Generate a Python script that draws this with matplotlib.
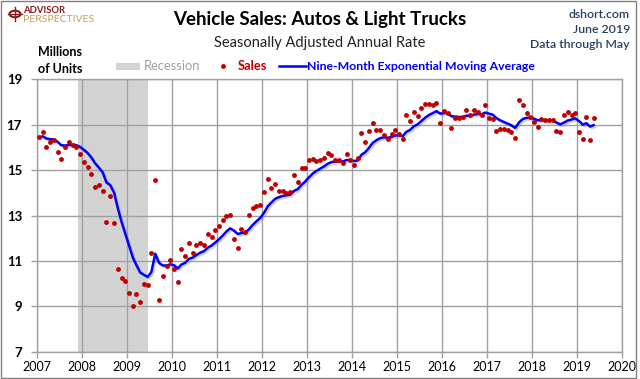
import numpy as np
import pandas as pd
import matplotlib
matplotlib.use("Agg")
import matplotlib.pyplot as plt
import matplotlib.dates as mdates
import matplotlib.patheffects as pe
from matplotlib.patches import Rectangle, Circle
from matplotlib.lines import Line2D

# ---- data (millions of units, SAAR), Jan 2007 .. May 2019 ----
sales_2007 = [16.44, 16.70, 16.03, 16.22, 16.31, 15.82, 15.51, 16.03, 16.22, 16.12, 16.03, 15.72]
sales_2008 = [15.38, 15.16, 14.81, 14.25, 14.36, 14.07, 12.70, 13.87, 12.66, 10.66, 10.23, 10.13]
sales_2009 = [9.58, 9.01, 9.53, 9.18, 9.98, 9.92, 11.37, 14.55, 9.30, 10.35, 10.78, 11.06]
sales_2010 = [10.66, 10.09, 11.53, 11.22, 11.79, 11.37, 11.70, 11.79, 11.70, 12.19, 12.04, 12.35]
sales_2011 = [12.54, 12.79, 12.97, 13.01, 11.97, 11.57, 12.40, 12.28, 13.01, 13.35, 13.41, 13.45]
sales_2012 = [14.04, 14.59, 14.22, 14.40, 14.09, 14.09, 14.00, 14.02, 14.77, 14.48, 15.10, 15.10]
sales_2013 = [15.45, 15.51, 15.41, 15.46, 15.55, 15.76, 15.66, 15.45, 15.47, 15.32, 15.71, 15.45]
sales_2014 = [15.23, 15.54, 16.65, 16.25, 16.72, 17.10, 16.79, 16.79, 16.57, 16.37, 16.59, 16.79]
sales_2015 = [16.59, 16.36, 17.41, 17.15, 17.55, 17.37, 17.75, 17.90, 17.90, 17.86, 17.94, 17.06]
sales_2016 = [17.62, 17.50, 16.84, 17.28, 17.28, 17.34, 17.63, 17.41, 17.63, 17.58, 17.41, 17.86]
sales_2017 = [17.28, 17.24, 16.72, 16.81, 16.81, 16.77, 16.68, 16.40, 18.08, 17.86, 17.50, 17.33]
sales_2018 = [17.11, 16.90, 17.24, 17.19, 17.19, 17.19, 16.72, 16.68, 17.41, 17.55, 17.41, 17.50]
sales_2019 = [16.68, 16.37, 17.33, 16.32, 17.28]

sales = np.array(sales_2007 + sales_2008 + sales_2009 + sales_2010 + sales_2011 +
                 sales_2012 + sales_2013 + sales_2014 + sales_2015 + sales_2016 +
                 sales_2017 + sales_2018 + sales_2019)
dates = pd.date_range("2007-01-01", periods=len(sales), freq="MS") + pd.Timedelta(days=14)

ema_span = 9
ema = pd.Series(sales).ewm(span=ema_span, adjust=False).mean().values

recession_start = pd.Timestamp("2007-12-01")
recession_end = pd.Timestamp("2009-06-15")

year_ticks = list(range(2007, 2021))
y_ticks = [7, 9, 11, 13, 15, 17, 19]

# ---- figure ----
W, H = 640, 379
fig = plt.figure(figsize=(W / 100, H / 100), dpi=100)
plt.rcParams['font.family'] = ['Lato', 'DejaVu Sans']

def fx(px):
    return px / W

def fy(py):
    return 1 - py / H

ax = fig.add_axes([fx(37.3), fy(351.7), fx(622.3) - fx(37.3), fy(79.4) - fy(351.7)])

grid_c = "#A0A0A0"
ax.axvspan(recession_start, recession_end, color="#D3D3D3", lw=0, zorder=0.2)
ax.set_axisbelow(True)
ax.grid(True, color=grid_c, lw=1.0)

ax.plot(dates, ema, color="#0000FF", lw=1.8, zorder=3, solid_capstyle="round",
        path_effects=[pe.SimpleLineShadow(offset=(1.2, -1.2), shadow_color="#888888", alpha=0.35),
                      pe.Normal()])
ax.plot(dates, sales, linestyle="none", marker="o", ms=3.5, color="#C00000",
        markeredgewidth=0, zorder=4)

ax.set_xlim(pd.Timestamp("2007-01-01"), pd.Timestamp("2020-01-01"))
ax.set_ylim(7, 19)
ax.set_xticks([pd.Timestamp(f"{y}-01-01") for y in year_ticks])
ax.xaxis.set_major_formatter(mdates.DateFormatter("%Y"))
ax.set_yticks(y_ticks)
ax.tick_params(axis="both", colors=grid_c, length=4, width=1.0, labelcolor="black")
ax.tick_params(axis="x", labelsize=9, pad=3)
ax.tick_params(axis="y", labelsize=9.5, pad=7)
for lbl in ax.get_yticklabels():
    lbl.set_fontweight("bold")
for s in ax.spines.values():
    s.set_color(grid_c)
    s.set_linewidth(1.0)

# ---- titles ----
fig.text(fx(320), fy(20), "Vehicle Sales: Autos & Light Trucks", ha="center", va="center",
         fontsize=13.5, fontweight="bold", color="black")
fig.text(fx(320), fy(43), "Seasonally Adjusted Annual Rate", ha="center", va="center",
         fontsize=10.5, color="#222222")

info_c = "#243F60"
for i, t in enumerate(["dshort.com", "June 2019", "Data through May"]):
    fig.text(fx(630), fy(14 + i * 15.5), t, ha="right", va="center", fontsize=8.8,
             fontweight="semibold", color=info_c)

fig.text(fx(38), fy(52), "Millions", ha="left", va="center", fontsize=9, fontweight="bold")
fig.text(fx(38), fy(69), "of Units", ha="left", va="center", fontsize=9, fontweight="bold")

# ---- legend (manual) ----
fig.patches.append(Rectangle((fx(115.5), fy(69.5)), fx(140) - fx(115.5), fy(63) - fy(69.5),
                             transform=fig.transFigure, color="#D3D3D3", lw=0))
fig.text(fx(144), fy(66.5), "Recession", ha="left", va="center", fontsize=9.3, color="#A0A0A0")
fig.lines.append(Line2D([fx(222.5)], [fy(66)], transform=fig.transFigure, marker="o",
                        ms=3.5, color="#C00000", markeredgewidth=0, linestyle="none"))
fig.text(fx(238), fy(66.5), "Sales", ha="left", va="center", fontsize=9.3,
         fontweight="bold", color="#C00000")
fig.lines.append(Line2D([fx(279), fx(306)], [fy(66), fy(66)], transform=fig.transFigure,
                        color="#0000FF", lw=1.8))
fig.text(fx(307), fy(66.5), "Nine-Month Exponential Moving Average", ha="left", va="center",
         fontsize=8.8, fontweight="bold", color="#0000FF")

# ---- logo ----
fig.patches.append(Circle((fx(15), fy(14)), 5.5 / W, transform=fig.transFigure,
                          facecolor="none", edgecolor="#8B1A1A", lw=1.5))
fig.lines.append(Line2D([fx(8), fx(22)], [fy(14), fy(14)], transform=fig.transFigure,
                        color="#8B1A1A", lw=1.0))
fig.lines.append(Line2D([fx(15), fx(15)], [fy(7), fy(21)], transform=fig.transFigure,
                        color="#8B1A1A", lw=1.0))
fig.text(fx(23), fy(10.5), "ADVISOR", ha="left", va="center", fontsize=6.8,
         fontweight="bold", color="#8B1A1A")
fig.text(fx(23), fy(19.5), "PERSPECTIVES", ha="left", va="center", fontsize=7.5,
         color="#C8A060")

# ---- border ----
fig.patches.append(Rectangle((fx(1), fy(377.5)), fx(636) - fx(1), fy(1) - fy(377.5),
                             transform=fig.transFigure, facecolor="none",
                             edgecolor="#808080", lw=1.0))

fig.savefig("out.png", dpi=100)
